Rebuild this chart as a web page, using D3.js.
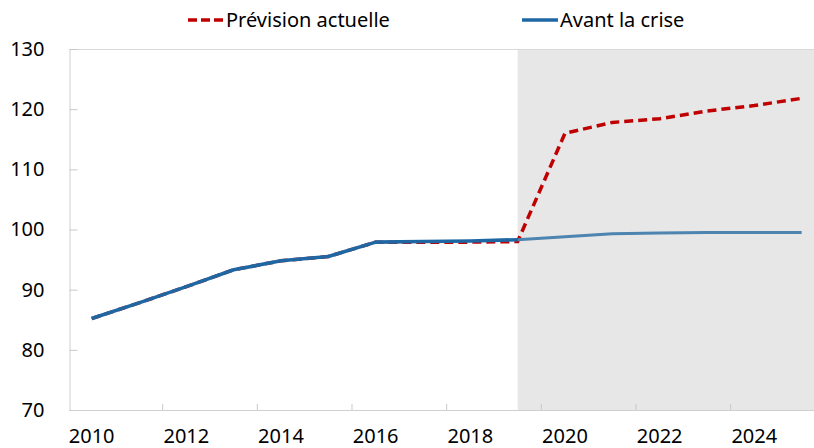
<!DOCTYPE html>
<html lang="fr">

<head>
  <meta charset="UTF-8">
  <title>prevision</title>
  <script src="https://cdn.jsdelivr.net/npm/d3@7"></script>
  <style>
    body { margin: 0; background: #fff; }
    text { font-family: "Noto Sans", "Open Sans", sans-serif; fill: #000; }
  </style>
</head>

<body>
  <svg width="814" height="448"></svg>
  <script>
    var years = d3.range(2010, 2026)
    var avantCrise = [85.2, 87.8, 90.5, 93.3, 94.8, 95.5, 97.9, 98.0, 98.1, 98.3, 98.8, 99.3, 99.4, 99.5, 99.5, 99.5]
    var prevision = [85.2, 87.8, 90.5, 93.3, 94.8, 95.5, 97.9, 97.9, 97.9, 98.0, 116.0, 117.8, 118.4, 119.7, 120.6, 121.8]
    var yTicks = [70, 80, 90, 100, 110, 120, 130]
    var xLabels = [2010, 2012, 2014, 2016, 2018, 2020, 2022, 2024]
    var projStart = 2019

    var svg = d3.select('svg')
    var plotL = 68, plotR = 825.3, plotT = 49, plotB = 410

    var x = d3.scaleBand().domain(years).range([plotL, plotR]).padding(0)
    var cx = d => x(d) + x.bandwidth() / 2
    var y = d3.scaleLinear().domain([70, 130]).range([plotB, plotT])

    // shaded forecast zone
    svg.append('rect')
      .attr('x', cx(projStart))
      .attr('y', plotT)
      .attr('width', plotR - cx(projStart))
      .attr('height', plotB - plotT)
      .attr('fill', '#e7e7e7')

    // frame line on top
    svg.append('line')
      .attr('x1', plotL + 1).attr('x2', plotR).attr('y1', plotT + 0.5).attr('y2', plotT + 0.5)
      .attr('stroke', '#d9d9d9')

    // y axis
    var yAxis = svg.append('g')
      .attr('transform', `translate(${plotL + 1.5},0)`)
      .call(d3.axisLeft(y).tickValues(yTicks).tickSize(-8).tickPadding(25))
    yAxis.select('.domain').attr('stroke', '#d0d0d0')
    yAxis.selectAll('.tick line').attr('stroke', '#c8c8c8')
    yAxis.selectAll('text').attr('font-size', 20).style('font-family', '"Noto Sans", sans-serif')

    // x axis: labels at category centres, ticks between categories
    var xAxis = svg.append('g')
      .attr('transform', `translate(0,${plotB})`)
      .call(d3.axisBottom(x).tickValues(xLabels).tickSize(0).tickPadding(19))
    xAxis.select('.domain').remove()
    xAxis.selectAll('text').attr('font-size', 20).style('font-family', '"Noto Sans", sans-serif')

    svg.append('line')
      .attr('x1', plotL + 1).attr('x2', plotR).attr('y1', plotB + 0.5).attr('y2', plotB + 0.5)
      .attr('stroke', '#d0d0d0')
    svg.append('g').selectAll('line')
      .data(xLabels.filter(d => d > 2010))
      .enter()
      .append('line')
      .attr('x1', d => x(d)).attr('x2', d => x(d))
      .attr('y1', plotB - 6).attr('y2', plotB)
      .attr('stroke', '#c8c8c8')

    var line = d3.line()
      .x(d => cx(d[0]))
      .y(d => y(d[1]))

    var prevData = years.map((d, i) => [d, prevision[i]])
    var avantData = years.map((d, i) => [d, avantCrise[i]])

    svg.append('path')
      .attr('d', line(prevData))
      .attr('fill', 'none')
      .attr('stroke', '#c00000')
      .attr('stroke-width', 3.5)
      .attr('stroke-dasharray', '9,5')

    svg.append('path')
      .attr('d', line(avantData.filter(d => d[0] <= projStart)))
      .attr('fill', 'none')
      .attr('stroke', '#1f67a3')
      .attr('stroke-width', 3.6)
      .attr('stroke-linejoin', 'round')
    svg.append('path')
      .attr('d', line(avantData.filter(d => d[0] >= projStart)))
      .attr('fill', 'none')
      .attr('stroke', '#4d84b0')
      .attr('stroke-width', 3)
      .attr('stroke-linejoin', 'round')

    // legend
    var legend = [
      { name: 'Prévision actuelle', color: '#c00000', dash: '9,4', x: 188 },
      { name: 'Avant la crise', color: '#1f67a3', dash: null, x: 522 }
    ]
    var lg = svg.append('g').selectAll('g')
      .data(legend)
      .enter()
      .append('g')
      .attr('transform', d => `translate(${d.x},20)`)
    lg.append('line')
      .attr('x1', 0).attr('x2', 36)
      .attr('stroke', d => d.color)
      .attr('stroke-width', 3.5)
      .attr('stroke-dasharray', d => d.dash)
    lg.append('text')
      .attr('x', 38)
      .attr('y', 7)
      .attr('font-size', 20)
      .text(d => d.name)
  </script>
</body>

</html>
